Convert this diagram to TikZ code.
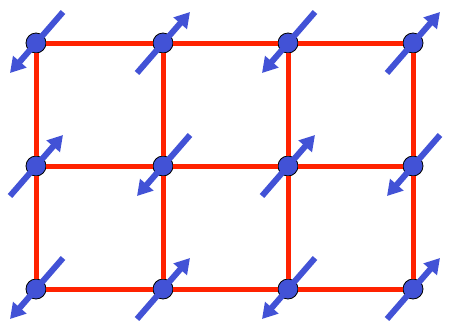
\documentclass[tikz,border=0pt]{standalone}
\usepackage{tikz}
\usetikzlibrary{arrows.meta}
\definecolor{bondred}{RGB}{255,34,0}
\definecolor{spinblue}{RGB}{66,82,214}
\newcommand{\spinup}[1]{\draw[spin] ([shift={(-26,30)}]#1.center) -- ([shift={(27,-31)}]#1.center);}
\newcommand{\spindown}[1]{\draw[spin] ([shift={(27,-31)}]#1.center) -- ([shift={(-26,30)}]#1.center);}

\begin{document}
\begin{tikzpicture}[x=1pt,y=-1pt]
\tikzstyle{site}=[circle,draw=black,line width=0.8pt,fill=spinblue,minimum size=20pt,inner sep=0pt]
\tikzstyle{bond}=[draw=bondred,line width=5pt]
\tikzstyle{spin}=[draw=spinblue,line width=6pt,-{Triangle[length=15pt,width=17pt]}]
\useasboundingbox (0,0) rectangle (453,322);
% lattice sites
\node[site] (a1) at (36,43) {};
\node[site] (a2) at (163,43) {};
\node[site] (a3) at (288,43) {};
\node[site] (a4) at (413,43) {};
\node[site] (b1) at (36,166) {};
\node[site] (b2) at (163,166) {};
\node[site] (b3) at (288,166) {};
\node[site] (b4) at (413,166) {};
\node[site] (c1) at (36,289) {};
\node[site] (c2) at (163,289) {};
\node[site] (c3) at (288,289) {};
\node[site] (c4) at (413,289) {};
% bonds
\path[bond] (a1) -- (a2) -- (a3) -- (a4);
\path[bond] (b1) -- (b2) -- (b3) -- (b4);
\path[bond] (c1) -- (c2) -- (c3) -- (c4);
\path[bond] (a1) -- (b1) -- (c1);
\path[bond] (a2) -- (b2) -- (c2);
\path[bond] (a3) -- (b3) -- (c3);
\path[bond] (a4) -- (b4) -- (c4);
% spins
\spindown{a1} \spinup{a2} \spindown{a3} \spinup{a4}
\spinup{b1} \spindown{b2} \spinup{b3} \spindown{b4}
\spindown{c1} \spinup{c2} \spindown{c3} \spinup{c4}
\end{tikzpicture}
\end{document}
